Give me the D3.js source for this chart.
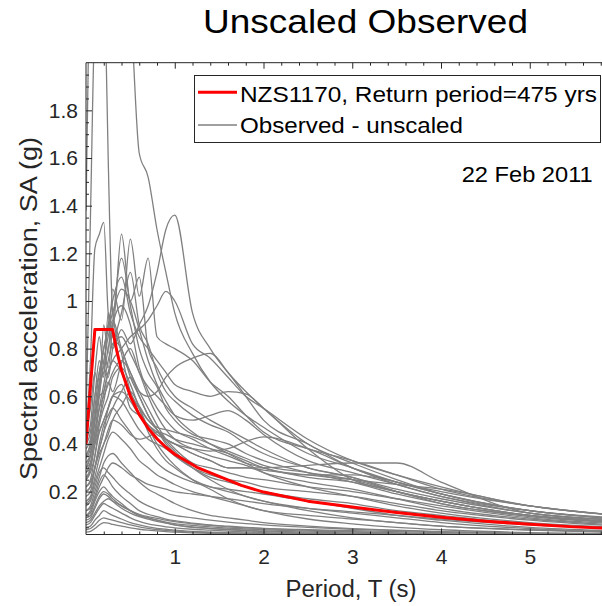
<!DOCTYPE html>
<html>
<head>
<meta charset="utf-8">
<script src="https://cdn.jsdelivr.net/npm/d3@7"></script>
<style>
  body { margin: 0; background: #fff; }
  svg { display: block; font-family: "Liberation Sans", Arial, sans-serif; }
</style>
</head>
<body>
<div id="chart"></div>
<script>
// Period grid (s) shared by all observed spectra
const periods = [0, 0.05, 0.1, 0.15, 0.2, 0.25, 0.3, 0.4, 0.5, 0.6, 0.7, 0.8, 0.9, 1.0,
                 1.2, 1.4, 1.6, 1.8, 2.0, 2.5, 3.0, 3.5, 4.0, 5.0, 6.0];

// Observed spectral accelerations (g), one row per record
const observedSA = [
  [1.38, 2.6, 3.0, 2.9, 2.5, 1.6, 0.95, 0.78, 0.62, 0.55, 0.47, 0.4, 0.35, 0.31, 0.25, 0.21, 0.17, 0.14, 0.12, 0.085, 0.065, 0.05, 0.04, 0.028, 0.022],
  [0.5, 1.35, 2.2, 2.4, 2.5, 2.6, 2.7, 2.6, 2.25, 1.62, 1.52, 1.3, 1.12, 0.95, 0.78, 0.66, 0.58, 0.52, 0.47, 0.36, 0.3, 0.24, 0.19, 0.12, 0.09],
  [0.42, 0.48, 0.7, 0.85, 0.72, 0.9, 0.8, 0.88, 0.82, 0.9, 0.98, 1.12, 1.3, 1.36, 0.95, 0.8, 0.7, 0.62, 0.55, 0.4, 0.32, 0.25, 0.19, 0.12, 0.085],
  [0.42, 0.75, 1.22, 1.28, 1.33, 0.95, 0.85, 0.8, 0.68, 0.6, 0.52, 0.46, 0.41, 0.37, 0.3, 0.25, 0.21, 0.18, 0.16, 0.12, 0.09, 0.07, 0.055, 0.04, 0.03],
  [0.38, 0.42, 0.6, 0.75, 0.68, 0.95, 0.88, 1.28, 1.0, 1.1, 0.8, 0.72, 0.65, 0.6, 0.55, 0.5, 0.46, 0.42, 0.38, 0.3, 0.26, 0.2, 0.16, 0.1, 0.07],
  [0.45, 0.55, 0.7, 0.62, 0.9, 0.78, 1.05, 0.92, 1.26, 1.02, 1.18, 0.85, 0.82, 0.8, 0.75, 0.66, 0.6, 0.52, 0.45, 0.38, 0.33, 0.27, 0.21, 0.14, 0.1],
  [0.35, 0.4, 0.5, 0.6, 0.62, 0.7, 0.75, 0.8, 0.85, 0.88, 0.92, 0.98, 1.04, 1.0, 0.82, 0.76, 0.68, 0.6, 0.55, 0.42, 0.33, 0.27, 0.22, 0.14, 0.1],
  [0.3, 0.35, 0.45, 0.55, 0.6, 0.65, 0.7, 0.75, 0.7, 0.62, 0.6, 0.62, 0.68, 0.72, 0.76, 0.78, 0.7, 0.6, 0.5, 0.4, 0.3, 0.24, 0.2, 0.14, 0.1],
  [0.4, 0.45, 0.6, 0.7, 0.8, 0.9, 1.0, 1.1, 0.95, 0.85, 0.8, 0.75, 0.7, 0.65, 0.62, 0.6, 0.62, 0.61, 0.55, 0.38, 0.25, 0.2, 0.15, 0.1, 0.075],
  [0.28, 0.3, 0.4, 0.5, 0.62, 0.7, 0.75, 0.7, 0.6, 0.55, 0.5, 0.46, 0.42, 0.4, 0.36, 0.33, 0.3, 0.3, 0.3, 0.31, 0.32, 0.32, 0.24, 0.11, 0.08],
  [0.3, 0.32, 0.4, 0.45, 0.5, 0.55, 0.6, 0.65, 0.55, 0.52, 0.48, 0.45, 0.42, 0.4, 0.36, 0.33, 0.3, 0.3, 0.29, 0.27, 0.25, 0.23, 0.21, 0.14, 0.1],
  [0.25, 0.28, 0.35, 0.45, 0.5, 0.55, 0.6, 0.62, 0.58, 0.52, 0.48, 0.44, 0.42, 0.4, 0.38, 0.37, 0.38, 0.41, 0.43, 0.38, 0.3, 0.23, 0.18, 0.11, 0.08],
  [0.22, 0.25, 0.35, 0.48, 0.55, 0.6, 0.68, 0.72, 0.65, 0.55, 0.45, 0.38, 0.33, 0.3, 0.25, 0.22, 0.21, 0.2, 0.19, 0.16, 0.13, 0.1, 0.08, 0.05, 0.035],
  [0.25, 0.3, 0.45, 0.6, 0.75, 0.85, 0.92, 0.8, 0.7, 0.62, 0.55, 0.48, 0.42, 0.38, 0.32, 0.3, 0.28, 0.26, 0.25, 0.22, 0.2, 0.17, 0.14, 0.09, 0.065],
  [0.3, 0.35, 0.5, 0.65, 0.7, 0.8, 0.9, 0.98, 0.9, 0.72, 0.62, 0.55, 0.5, 0.46, 0.42, 0.38, 0.35, 0.32, 0.3, 0.26, 0.24, 0.2, 0.16, 0.1, 0.07],
  [0.2, 0.22, 0.3, 0.38, 0.45, 0.55, 0.6, 0.58, 0.52, 0.46, 0.42, 0.4, 0.38, 0.35, 0.3, 0.27, 0.25, 0.24, 0.22, 0.2, 0.18, 0.15, 0.12, 0.08, 0.055],
  [0.18, 0.2, 0.3, 0.4, 0.48, 0.52, 0.55, 0.5, 0.45, 0.4, 0.36, 0.32, 0.29, 0.27, 0.24, 0.22, 0.2, 0.18, 0.16, 0.13, 0.11, 0.09, 0.07, 0.045, 0.032],
  [0.28, 0.32, 0.42, 0.55, 0.65, 0.75, 0.82, 0.85, 0.78, 0.7, 0.6, 0.52, 0.46, 0.42, 0.38, 0.35, 0.33, 0.31, 0.28, 0.24, 0.21, 0.17, 0.13, 0.085, 0.06],
  [0.15, 0.17, 0.24, 0.3, 0.36, 0.42, 0.45, 0.42, 0.38, 0.33, 0.3, 0.27, 0.25, 0.23, 0.2, 0.18, 0.16, 0.14, 0.12, 0.1, 0.085, 0.07, 0.055, 0.038, 0.028],
  [0.35, 0.4, 0.55, 0.7, 0.8, 0.88, 0.95, 1.05, 1.0, 0.88, 0.75, 0.65, 0.58, 0.52, 0.45, 0.4, 0.36, 0.32, 0.28, 0.22, 0.18, 0.14, 0.11, 0.07, 0.05],
  [0.22, 0.24, 0.3, 0.38, 0.45, 0.5, 0.55, 0.62, 0.68, 0.6, 0.52, 0.46, 0.4, 0.36, 0.3, 0.26, 0.24, 0.22, 0.2, 0.17, 0.15, 0.12, 0.1, 0.065, 0.045],
  [0.12, 0.14, 0.2, 0.26, 0.32, 0.35, 0.36, 0.32, 0.28, 0.24, 0.21, 0.19, 0.17, 0.15, 0.12, 0.1, 0.09, 0.08, 0.07, 0.055, 0.045, 0.038, 0.032, 0.024, 0.02],
  [0.1, 0.11, 0.16, 0.2, 0.22, 0.2, 0.18, 0.15, 0.12, 0.1, 0.09, 0.08, 0.07, 0.06, 0.05, 0.045, 0.04, 0.036, 0.032, 0.026, 0.022, 0.019, 0.016, 0.012, 0.01],
  [0.08, 0.09, 0.13, 0.17, 0.19, 0.18, 0.16, 0.13, 0.11, 0.095, 0.085, 0.075, 0.068, 0.06, 0.052, 0.046, 0.042, 0.038, 0.035, 0.03, 0.026, 0.022, 0.019, 0.014, 0.011],
  [0.06, 0.07, 0.1, 0.13, 0.15, 0.14, 0.13, 0.11, 0.09, 0.075, 0.065, 0.058, 0.052, 0.048, 0.042, 0.038, 0.034, 0.031, 0.028, 0.024, 0.021, 0.018, 0.016, 0.012, 0.01],
  [0.05, 0.055, 0.08, 0.1, 0.12, 0.11, 0.1, 0.085, 0.07, 0.06, 0.052, 0.046, 0.042, 0.038, 0.033, 0.03, 0.028, 0.026, 0.024, 0.02, 0.017, 0.015, 0.013, 0.01, 0.008],
  [0.12, 0.13, 0.18, 0.24, 0.27, 0.25, 0.22, 0.18, 0.15, 0.12, 0.105, 0.095, 0.085, 0.078, 0.068, 0.06, 0.055, 0.05, 0.046, 0.038, 0.032, 0.027, 0.023, 0.017, 0.013],
  [0.04, 0.045, 0.06, 0.08, 0.09, 0.085, 0.08, 0.07, 0.06, 0.052, 0.046, 0.041, 0.037, 0.034, 0.03, 0.028, 0.026, 0.025, 0.024, 0.022, 0.02, 0.018, 0.016, 0.013, 0.011],
  [0.09, 0.1, 0.14, 0.18, 0.2, 0.19, 0.17, 0.14, 0.12, 0.105, 0.095, 0.088, 0.08, 0.074, 0.065, 0.058, 0.052, 0.048, 0.045, 0.04, 0.036, 0.032, 0.028, 0.022, 0.018],
  [0.03, 0.033, 0.045, 0.06, 0.07, 0.068, 0.062, 0.055, 0.048, 0.042, 0.038, 0.035, 0.032, 0.03, 0.027, 0.025, 0.024, 0.023, 0.022, 0.02, 0.018, 0.016, 0.014, 0.011, 0.009],
  [0.14, 0.16, 0.22, 0.28, 0.3, 0.28, 0.26, 0.22, 0.19, 0.16, 0.14, 0.125, 0.11, 0.1, 0.09, 0.08, 0.072, 0.066, 0.06, 0.05, 0.042, 0.036, 0.031, 0.024, 0.019],
  [0.07, 0.08, 0.11, 0.14, 0.16, 0.17, 0.16, 0.14, 0.12, 0.1, 0.09, 0.08, 0.072, 0.066, 0.058, 0.052, 0.047, 0.043, 0.04, 0.034, 0.03, 0.026, 0.022, 0.017, 0.014],
  [0.32, 0.36, 0.5, 0.62, 0.72, 0.68, 0.8, 0.95, 1.12, 0.9, 0.82, 0.7, 0.62, 0.58, 0.52, 0.48, 0.45, 0.4, 0.36, 0.3, 0.26, 0.21, 0.17, 0.11, 0.08],
  [0.26, 0.3, 0.42, 0.5, 0.58, 0.66, 0.62, 0.74, 0.8, 0.7, 0.64, 0.6, 0.56, 0.52, 0.5, 0.52, 0.54, 0.5, 0.44, 0.33, 0.28, 0.23, 0.18, 0.12, 0.085],
  [0.2, 0.22, 0.3, 0.36, 0.4, 0.46, 0.5, 0.48, 0.44, 0.42, 0.43, 0.45, 0.44, 0.42, 0.4, 0.38, 0.36, 0.33, 0.3, 0.27, 0.27, 0.24, 0.19, 0.12, 0.085],
  [0.34, 0.38, 0.52, 0.66, 0.78, 0.72, 0.9, 1.18, 0.98, 0.8, 0.7, 0.64, 0.55, 0.5, 0.44, 0.42, 0.4, 0.36, 0.33, 0.28, 0.24, 0.19, 0.15, 0.095, 0.07],
  [0.16, 0.18, 0.26, 0.34, 0.4, 0.44, 0.5, 0.56, 0.62, 0.56, 0.5, 0.47, 0.46, 0.45, 0.43, 0.4, 0.37, 0.34, 0.31, 0.28, 0.25, 0.2, 0.16, 0.1, 0.07],
  [0.1, 0.12, 0.17, 0.22, 0.26, 0.3, 0.32, 0.3, 0.27, 0.25, 0.23, 0.22, 0.21, 0.2, 0.19, 0.18, 0.17, 0.16, 0.15, 0.13, 0.115, 0.1, 0.085, 0.06, 0.045]
];

// NZS1170 design spectrum, 475 year return period
const nzsPeriods = [0, 0.1, 0.3, 0.35, 0.4, 0.5, 0.6, 0.7, 0.8, 0.9, 1.0, 1.25, 1.5, 1.75, 2.0,
                    2.5, 3.0, 3.5, 4.0, 4.5, 5.0, 5.5, 6.0];
const nzsSA = [0.40, 0.88, 0.88, 0.785, 0.709, 0.60, 0.523, 0.466, 0.422, 0.386, 0.357, 0.302,
               0.264, 0.226, 0.198, 0.16, 0.135, 0.112, 0.092, 0.076, 0.063, 0.052, 0.044];

const xTicks = [1, 2, 3, 4, 5];
const yTicks = [0.2, 0.4, 0.6, 0.8, 1.0, 1.2, 1.4, 1.6, 1.8];
const legendLabels = ["NZS1170, Return period=475 yrs", "Observed - unscaled"];
const eventLabel = "22 Feb 2011";

const width = 602;
const height = 606;
const axisColor = "#262626";

const svg = d3.select("#chart").append("svg")
    .attr("width", width)
    .attr("height", height);

const x = d3.scaleLinear().domain([0, 6]).range([86, 618.5]);
const y = d3.scaleLinear().domain([0.02, 2]).range([534.5, 62.7]);

svg.append("clipPath").attr("id", "plot-clip")
  .append("rect")
    .attr("x", x(0)).attr("y", y(2))
    .attr("width", x(6) - x(0)).attr("height", y(0.02) - y(2));

// Spectra
const plot = svg.append("g").attr("clip-path", "url(#plot-clip)");

const obsLine = d3.line()
    .x((d, i) => x(periods[i]))
    .y(d => y(d))
    .curve(d3.curveMonotoneX);

plot.selectAll(".obs")
  .data(observedSA)
  .join("path")
    .attr("class", "obs")
    .attr("d", obsLine)
    .attr("fill", "none")
    .attr("stroke", "#808080")
    .attr("stroke-width", 1.3);

const nzsLine = d3.line()
    .x((d, i) => x(nzsPeriods[i]))
    .y(d => y(d));

plot.append("path")
    .datum(nzsSA)
    .attr("d", nzsLine)
    .attr("fill", "none")
    .attr("stroke", "#ff0000")
    .attr("stroke-width", 3)
    .attr("stroke-linejoin", "round");

// Axes (MATLAB style: ticks inside, box on)
const fmt = d => String(+d.toFixed(1));
const xMinor = d3.range(0.2, 6, 0.2).filter(v => Math.abs(v - Math.round(v)) > 1e-6);
const yMinor = d3.range(0.05, 2, 0.05).filter(v => Math.abs(v * 5 - Math.round(v * 5)) > 1e-6);

function styleAxis(g) {
  g.select(".domain").remove();
  g.selectAll("line").attr("stroke", axisColor);
  g.selectAll("text").attr("fill", axisColor);
}

svg.append("g")
    .attr("transform", `translate(0,${y(0.02)})`)
    .call(d3.axisBottom(x).tickValues(xTicks).tickFormat(fmt).tickSizeInner(-6).tickSizeOuter(0).tickPadding(15))
    .call(styleAxis)
    .selectAll("text").style("font-size", "21px");

svg.append("g")
    .attr("transform", `translate(0,${y(0.02)})`)
    .call(d3.axisBottom(x).tickValues(xMinor).tickFormat("").tickSizeInner(-3).tickSizeOuter(0))
    .call(styleAxis);

svg.append("g")
    .attr("transform", `translate(0,${y(2)})`)
    .call(d3.axisTop(x).tickValues(xTicks).tickFormat("").tickSizeInner(-6).tickSizeOuter(0))
    .call(styleAxis);

svg.append("g")
    .attr("transform", `translate(0,${y(2)})`)
    .call(d3.axisTop(x).tickValues(xMinor).tickFormat("").tickSizeInner(-3).tickSizeOuter(0))
    .call(styleAxis);

svg.append("g")
    .attr("transform", `translate(${x(0)},0)`)
    .call(d3.axisLeft(y).tickValues(yTicks).tickFormat(fmt).tickSizeInner(-6).tickSizeOuter(0).tickPadding(8))
    .call(styleAxis)
    .selectAll("text").style("font-size", "21px");

svg.append("g")
    .attr("transform", `translate(${x(0)},0)`)
    .call(d3.axisLeft(y).tickValues(yMinor).tickFormat("").tickSizeInner(-3).tickSizeOuter(0))
    .call(styleAxis);

// Axes box
svg.append("path")
    .attr("d", `M${x(6)},${y(2)}H${x(0)}V${y(0.02)}H${x(6)}`)
    .attr("fill", "none")
    .attr("stroke", axisColor)
    .attr("stroke-width", 1);

// Titles
svg.append("text")
    .attr("x", 365.5).attr("y", 33)
    .attr("text-anchor", "middle")
    .attr("textLength", 325).attr("lengthAdjust", "spacingAndGlyphs")
    .style("font-size", "33px")
    .attr("fill", "#000")
    .text("Unscaled Observed");

svg.append("text")
    .attr("x", 351).attr("y", 596.5)
    .attr("text-anchor", "middle")
    .attr("textLength", 131).attr("lengthAdjust", "spacingAndGlyphs")
    .style("font-size", "23px")
    .attr("fill", axisColor)
    .text("Period, T (s)");

svg.append("text")
    .attr("transform", "translate(37,308.5) rotate(-90)")
    .attr("text-anchor", "middle")
    .attr("textLength", 343).attr("lengthAdjust", "spacingAndGlyphs")
    .style("font-size", "23px")
    .attr("fill", axisColor)
    .text("Spectral acceleration, SA (g)");

// Legend
const legend = svg.append("g");
legend.append("rect")
    .attr("x", 194.5).attr("y", 75.5)
    .attr("width", 406).attr("height", 67)
    .attr("fill", "#fff")
    .attr("stroke", axisColor)
    .attr("stroke-width", 1);

const legendRows = [
  { label: legendLabels[0], color: "#ff0000", sw: 3, y: 92.3, base: 101.7, len: 357 },
  { label: legendLabels[1], color: "#808080", sw: 1.3, y: 125, base: 133.3, len: 223 }
];

legendRows.forEach(d => {
  legend.append("line")
      .attr("x1", 198).attr("x2", 237)
      .attr("y1", d.y).attr("y2", d.y)
      .attr("stroke", d.color)
      .attr("stroke-width", d.sw);
  legend.append("text")
      .attr("x", 240).attr("y", d.base)
      .attr("textLength", d.len).attr("lengthAdjust", "spacingAndGlyphs")
      .style("font-size", "22px")
      .attr("fill", "#000")
      .text(d.label);
});

svg.append("text")
    .attr("x", 461.7).attr("y", 181.7)
    .attr("textLength", 131).attr("lengthAdjust", "spacingAndGlyphs")
    .style("font-size", "22px")
    .attr("fill", "#000")
    .text(eventLabel);
</script>
</body>
</html>
